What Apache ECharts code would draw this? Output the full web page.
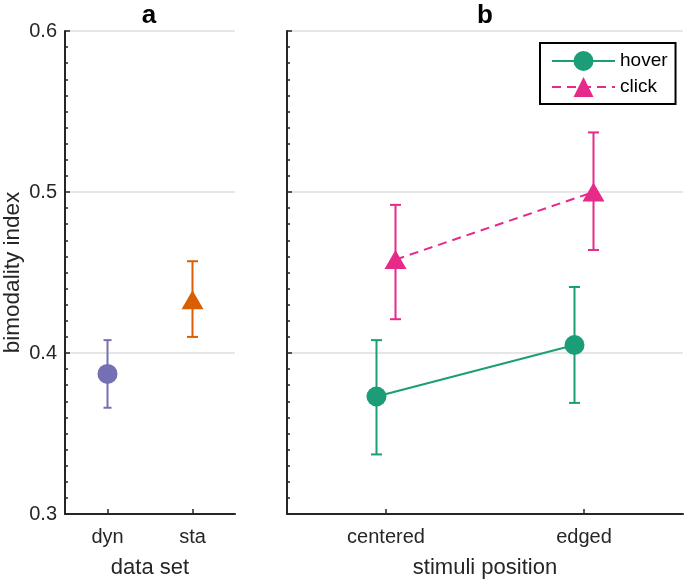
<!DOCTYPE html>
<html><head><meta charset="utf-8">
<script src="https://cdn.jsdelivr.net/npm/echarts@6/dist/echarts.min.js"></script>
<style>html,body{margin:0;padding:0;background:#fff}#c{width:685px;height:584px}</style>
</head><body><div id="c"></div>
<script>
// ---- data ----
const dataSets = ['dyn', 'sta'];
const dataSetMean = [0.387, 0.433];
const dataSetLow = [0.366, 0.410];
const dataSetHigh = [0.408, 0.457];

const positions = ['centered', 'edged'];
const hoverMean = [0.373, 0.405];
const hoverLow = [0.337, 0.369];
const hoverHigh = [0.408, 0.441];
const clickMean = [0.458, 0.500];
const clickLow = [0.421, 0.464];
const clickHigh = [0.492, 0.537];

const yTicks = [0.3, 0.4, 0.5, 0.6];
const seriesNames = ['hover', 'click'];
const panelTitles = ['a', 'b'];
const yAxisName = 'bimodality index';
const xAxisNameA = 'data set';
const xAxisNameB = 'stimuli position';

// ---- styles ----
const FONT = '"Liberation Sans", Arial, Helvetica, sans-serif';
const INK = '#262626';
const GRIDC = '#dedede';
const dataSetStyles = [
  {symbol: 'circle', size: 20, color: '#7570b3', cap: 8},
  {symbol: 'triangle', size: [22, 19], color: '#d95f02', cap: 11}
];
const bStyles = [
  {symbol: 'circle', size: 20, color: '#1b9e77', type: 'solid', cap: 11, dodge: -0.048},
  {symbol: 'triangle', size: [22, 19], color: '#e7298a', type: [9, 6], cap: 11, dodge: 0.048}
];

function errorBars(xAxisIndex, yAxisIndex, points, color, cap) {
  return {
    type: 'custom', xAxisIndex, yAxisIndex, z: 2, silent: true,
    data: points,
    renderItem(params, api) {
      const x = api.value(0);
      const lo = api.coord([x, api.value(1)]);
      const hi = api.coord([x, api.value(2)]);
      const h = cap / 2;
      const style = {stroke: color, lineWidth: 2, fill: null};
      return {type: 'group', children: [
        {type: 'line', shape: {x1: lo[0], y1: lo[1], x2: hi[0], y2: hi[1]}, style},
        {type: 'line', shape: {x1: hi[0] - h, y1: hi[1], x2: hi[0] + h, y2: hi[1]}, style},
        {type: 'line', shape: {x1: lo[0] - h, y1: lo[1], x2: lo[0] + h, y2: lo[1]}, style}
      ]};
    }
  };
}

const yMin = yTicks[0], yMax = yTicks[yTicks.length - 1], yStep = yTicks[1] - yTicks[0];

function yAxis(gridIndex, withLabels) {
  return {
    type: 'value', gridIndex, min: yMin, max: yMax, interval: yStep,
    name: withLabels ? yAxisName : '', nameLocation: 'middle', nameGap: 41,
    nameTextStyle: {fontSize: 22.5, color: INK, fontFamily: FONT},
    axisLine: {show: true, lineStyle: {color: INK, width: 2}},
    axisTick: {show: true, inside: true, length: 5, lineStyle: {color: INK, width: 1.5}},
    minorTick: {show: true, splitNumber: 10, length: 3, lineStyle: {color: INK, width: 1.5}},
    axisLabel: {show: withLabels, fontSize: 20, color: INK, fontFamily: FONT, margin: 8,
      formatter: v => v.toFixed(1)},
    splitLine: {show: true, lineStyle: {color: GRIDC, width: 1.5}},
    minorSplitLine: {show: false}
  };
}

function catAxis(gridIndex, cats, name) {
  return {
    type: 'category', gridIndex, data: cats, boundaryGap: true,
    name, nameLocation: 'middle', nameGap: 43,
    nameTextStyle: {fontSize: 22, color: INK, fontFamily: FONT},
    axisLine: {show: true, lineStyle: {color: INK, width: 2}},
    axisTick: {show: true, inside: true, alignWithLabel: true, length: 5, lineStyle: {color: INK, width: 1.5}},
    axisLabel: {fontSize: 20, color: INK, fontFamily: FONT, margin: 13},
    splitLine: {show: false}
  };
}

const series = [];
dataSets.forEach((d, i) => {
  const st = dataSetStyles[i];
  series.push(errorBars(0, 0, [[i, dataSetLow[i], dataSetHigh[i]]], st.color, st.cap));
  series.push({
    type: 'scatter', name: d, xAxisIndex: 0, yAxisIndex: 0, z: 3,
    symbol: st.symbol, symbolSize: st.size,
    itemStyle: {color: st.color, opacity: 1},
    data: [[i, dataSetMean[i]]]
  });
});

const bMeans = [hoverMean, clickMean], bLows = [hoverLow, clickLow], bHighs = [hoverHigh, clickHigh];
seriesNames.forEach((n, s) => {
  const st = bStyles[s];
  series.push(errorBars(2, 1,
    positions.map((p, i) => [i + 1 + st.dodge, bLows[s][i], bHighs[s][i]]), st.color, st.cap));
  series.push({
    type: 'line', name: n, xAxisIndex: 2, yAxisIndex: 1, z: 3,
    symbol: st.symbol, symbolSize: st.size, showSymbol: true,
    itemStyle: {color: st.color, opacity: 1},
    lineStyle: {color: st.color, width: 2, type: st.type},
    data: positions.map((p, i) => [i + 1 + st.dodge, bMeans[s][i]])
  });
});

const chart = echarts.init(document.getElementById('c'), null, {renderer: 'canvas'});
chart.setOption({
  animation: false,
  backgroundColor: '#fff',
  grid: [
    {left: 63, top: 31, width: 172, bottom: 63},
    {left: 287, top: 31, width: 396, bottom: 63}
  ],
  xAxis: [
    catAxis(0, dataSets, xAxisNameA),
    catAxis(1, positions, xAxisNameB),
    {type: 'value', gridIndex: 1, min: 0.5, max: 2.5, show: false}
  ],
  yAxis: [yAxis(0, true), yAxis(1, false)],
  legend: {
    data: seriesNames, orient: 'vertical', left: 540, top: 43,
    itemWidth: 63, itemHeight: 25, itemGap: 6,
    padding: [8, 8, 7, 11],
    borderColor: '#000', borderWidth: 2, backgroundColor: '#fff',
    selectedMode: false,
    textStyle: {fontSize: 19, color: '#000', fontFamily: FONT}
  },
  graphic: [
    {type: 'text', x: 149, y: 16, style: {text: panelTitles[0], font: 'bold 26px ' + FONT, fill: '#000', align: 'center', verticalAlign: 'middle', textAlign: 'center', textVerticalAlign: 'middle'}},
    {type: 'text', x: 485, y: 16, style: {text: panelTitles[1], font: 'bold 26px ' + FONT, fill: '#000', align: 'center', verticalAlign: 'middle', textAlign: 'center', textVerticalAlign: 'middle'}}
  ],
  series
});
</script>
</body></html>
